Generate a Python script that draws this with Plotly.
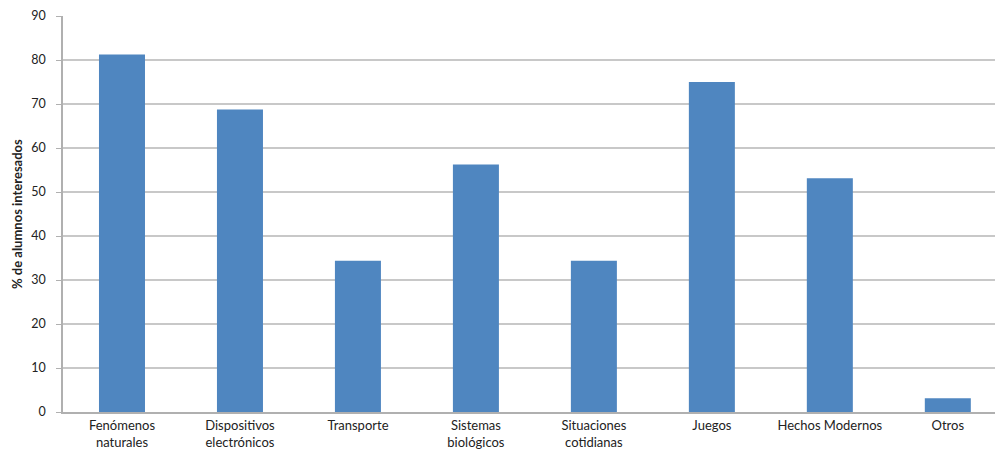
import plotly.graph_objects as go

# Temas de interés y porcentaje de alumnos interesados
categorias = [
    "Fenómenos<br>naturales",
    "Dispositivos<br>electrónicos",
    "Transporte",
    "Sistemas<br>biológicos",
    "Situaciones<br>cotidianas",
    "Juegos",
    "Hechos Modernos",
    "Otros",
]
porcentajes = [81.25, 68.75, 34.375, 56.25, 34.375, 75.0, 53.125, 3.125]
y_ticks = [0, 10, 20, 30, 40, 50, 60, 70, 80, 90]

W, H = 995, 453
M_L, M_R, M_T, M_B = 63, 0, 16, 41

fig = go.Figure(
    go.Bar(
        x=list(range(len(categorias))),
        y=porcentajes,
        width=0.39,
        marker=dict(color="#4F86C0", line=dict(width=0)),
    )
)

font_family = "Lato, 'Open Sans', sans-serif"

fig.update_layout(
    width=W,
    height=H,
    margin=dict(l=M_L, r=M_R, t=M_T, b=M_B),
    paper_bgcolor="white",
    plot_bgcolor="white",
    showlegend=False,
    font=dict(family=font_family, size=13, color="#222222"),
    xaxis=dict(
        tickmode="array",
        tickvals=list(range(len(categorias))),
        ticktext=categorias,
        range=[-0.5, 7.4],
        automargin=False,
        showgrid=False,
        showline=True,
        linecolor="#b0b0b0",
        linewidth=1.5,
        ticks="",
        ticklabelstandoff=1,
        tickfont=dict(size=13, color="#222222"),
        zeroline=False,
    ),
    yaxis=dict(
        range=[0, 90],
        tickvals=y_ticks,
        automargin=False,
        showgrid=True,
        gridcolor="#c8c8c8",
        gridwidth=1.5,
        showline=True,
        linecolor="#b0b0b0",
        linewidth=1.5,
        ticks="outside",
        ticklen=5,
        tickcolor="#b0b0b0",
        ticklabelstandoff=8,
        tickfont=dict(size=12.5, color="#222222"),
        zeroline=False,
    ),
    annotations=[
        dict(
            text="<b>% de alumnos interesados</b>",
            textangle=-90,
            xref="paper",
            yref="paper",
            x=(17 - M_L) / (W - M_L - M_R),
            y=0.5,
            xanchor="center",
            yanchor="middle",
            showarrow=False,
            font=dict(size=13, color="#222222", family=font_family),
        )
    ],
)

fig.write_html("out.html")
